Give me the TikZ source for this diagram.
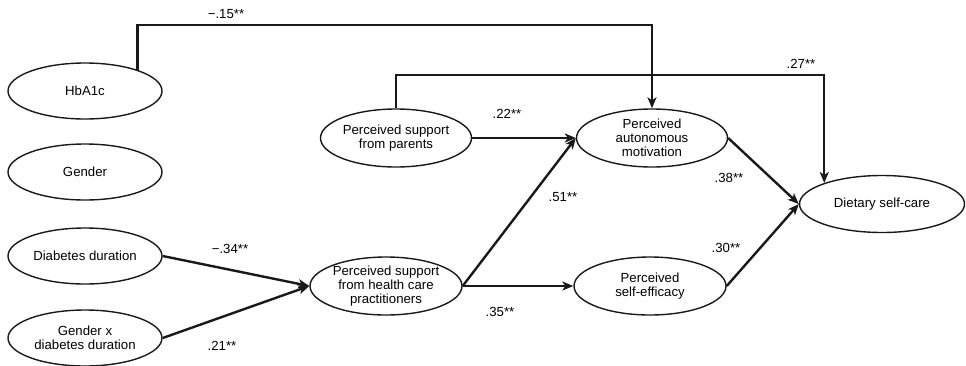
\documentclass[tikz,border=0pt]{standalone}
\usepackage{fontspec}
\setmainfont{Liberation Sans}
\usetikzlibrary{shapes.geometric,arrows.meta,positioning}

\begin{document}
\begin{tikzpicture}[
    x=1pt, y=-1pt,
    var/.style={draw=black!90, line width=1.4pt, ellipse, inner sep=0pt,
        minimum width=154pt, minimum height=56pt, align=center,
        font=\fontsize{13.2}{13.8}\selectfont},
    coef/.style={font=\fontsize{13.2}{14}\selectfont, inner sep=1pt},
    path/.style={-{Stealth[length=11pt,width=9pt,inset=3pt]}, line width=2.4pt, draw=black!90}
]
    \useasboundingbox (0,0) rectangle (966,365);

    % Exogenous variables
    \node[var] (hbanode) at (85,91) {HbA1c};
    \node[var] (gennode) at (85,172) {Gender};
    \node[var] (durnode) at (85,256) {Diabetes duration};
    \node[var] (intnode) at (85,338) {Gender x\\diabetes duration};

    % Mediators and outcome
    \node[var, minimum width=152pt, minimum height=58pt] (hcpnode) at (386,286) {Perceived support\\from health care\\practitioners};
    \node[var, minimum width=151pt, minimum height=58pt] (parnode) at (396,138) {Perceived support\\from parents};
    \node[var, minimum width=151pt, minimum height=58pt] (autnode) at (652,138) {Perceived\\autonomous\\motivation};
    \node[var, minimum width=152pt, minimum height=58pt] (effnode) at (650,286) {Perceived\\self-efficacy};
    \node[var, minimum width=165pt, minimum height=57pt] (dietnode) at (882,204) {Dietary self-care};

    % Bends of the long paths
    \coordinate (hbabend) at (300,25);
    \coordinate (parbend) at (500,75);

    % Paths
    \draw[path] (hbanode.22) |- (hbabend) -| (autnode.north);
    \draw[path] (parnode.north) |- (parbend) -| (dietnode.160);

    \draw[path] (durnode.east) -- (hcpnode.west);
    \draw[path] (intnode.east) -- (hcpnode.west);

    \draw[path] (parnode.east) -- (autnode.west);
    \draw[path] (hcpnode.east) -- (autnode.west);
    \draw[path] (hcpnode.east) -- (effnode.west);

    \draw[path] (autnode.east) -- (dietnode.west);
    \draw[path] (effnode.east) -- (dietnode.west);

    % Coefficients
    \node[coef] (hbacoef) at (226,14) {−.15**};
    \node[coef] (parcoef) at (801,64) {.27**};
    \node[coef] (pacoef) at (507,114) {.22**};
    \node[coef] (hacoef) at (563,197) {.51**};
    \node[coef] (hecoef) at (500,312) {.35**};
    \node[coef] (dhcoef) at (230,249) {−.34**};
    \node[coef] (ihcoef) at (222,346) {.21**};
    \node[coef] (adcoef) at (729,178) {.38**};
    \node[coef] (edcoef) at (726,248) {.30**};

\end{tikzpicture}
\end{document}
